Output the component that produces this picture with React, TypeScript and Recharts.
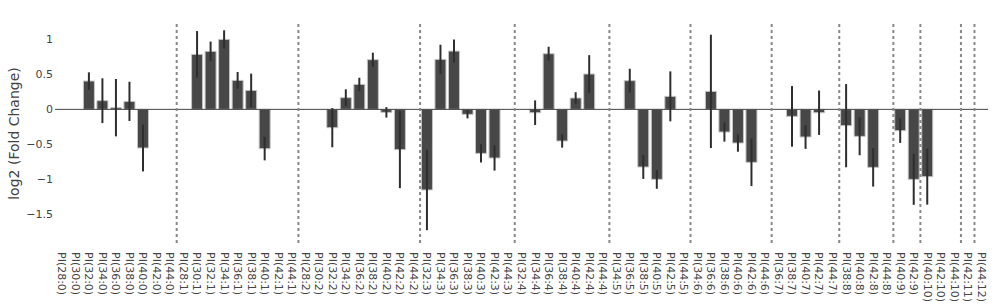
import { BarChart, Bar, XAxis, YAxis, ReferenceLine, ErrorBar } from "recharts";

const categories = [
  "PI(28:0)", "PI(30:0)", "PI(32:0)", "PI(34:0)", "PI(36:0)", "PI(38:0)", "PI(40:0)", "PI(42:0)", "PI(44:0)",
  "PI(28:1)", "PI(30:1)", "PI(32:1)", "PI(34:1)", "PI(36:1)", "PI(38:1)", "PI(40:1)", "PI(42:1)", "PI(44:1)",
  "PI(28:2)", "PI(30:2)", "PI(32:2)", "PI(34:2)", "PI(36:2)", "PI(38:2)", "PI(40:2)", "PI(42:2)", "PI(44:2)",
  "PI(32:3)", "PI(34:3)", "PI(36:3)", "PI(38:3)", "PI(40:3)", "PI(42:3)", "PI(44:3)",
  "PI(32:4)", "PI(34:4)", "PI(36:4)", "PI(38:4)", "PI(40:4)", "PI(42:4)", "PI(44:4)",
  "PI(34:5)", "PI(36:5)", "PI(38:5)", "PI(40:5)", "PI(42:5)", "PI(44:5)",
  "PI(34:6)", "PI(36:6)", "PI(38:6)", "PI(40:6)", "PI(42:6)", "PI(44:6)",
  "PI(36:7)", "PI(38:7)", "PI(40:7)", "PI(42:7)", "PI(44:7)",
  "PI(38:8)", "PI(40:8)", "PI(42:8)", "PI(44:8)",
  "PI(40:9)", "PI(42:9)",
  "PI(40:10)", "PI(42:10)", "PI(44:10)",
  "PI(42:11)",
  "PI(44:12)",
];

// log2 fold change, null = not measured
const values = [
  null, null, 0.405, 0.124, 0.024, 0.114, -0.552, null, null,
  null, 0.786, 0.829, 1.0, 0.414, 0.271, -0.562, null, null,
  null, null, -0.262, 0.167, 0.357, 0.71, -0.043, -0.576, null,
  -1.152, 0.714, 0.833, -0.071, -0.629, -0.695, null,
  null, -0.048, 0.795, -0.452, 0.162, 0.505, null,
  null, 0.41, -0.824, -1.0, 0.186, null,
  null, 0.257, -0.324, -0.481, -0.757, null,
  null, -0.1, -0.395, -0.048, null,
  -0.233, -0.386, -0.829, null,
  -0.305, -1.0,
  -0.962, null, null,
  null,
  null,
];

const errors = [
  null, null, 0.124, 0.32, 0.41, 0.28, 0.335, null, null,
  null, 0.333, 0.14, 0.13, 0.12, 0.24, 0.167, null, null,
  null, null, 0.28, 0.12, 0.095, 0.1, 0.075, 0.55, null,
  0.575, 0.21, 0.165, 0.058, 0.13, 0.18, null,
  null, 0.176, 0.1, 0.095, 0.083, 0.27, null,
  null, 0.17, 0.17, 0.135, 0.357, null,
  null, 0.81, 0.137, 0.124, 0.34, null,
  null, 0.433, 0.17, 0.317, null,
  0.595, 0.27, 0.275, null,
  0.175, 0.365,
  0.4, null, null,
  null,
  null,
];

// first category of each double-bond group, a dotted separator goes before it
const groupStarts = [
  "PI(28:1)", "PI(28:2)", "PI(32:3)", "PI(32:4)", "PI(34:5)", "PI(34:6)",
  "PI(36:7)", "PI(38:8)", "PI(40:9)", "PI(40:10)", "PI(42:11)", "PI(44:12)",
];

const yTicks = [-1.5, -1, -0.5, 0, 0.5, 1];

const data = categories.map((name, i) => ({ name, value: values[i], err: errors[i] }));

const FONT = "'DejaVu Sans', Verdana, sans-serif";

const fmt = (v: number) => (v < 0 ? "\u2212" + Math.abs(v) : String(v));

function XTick(props: any) {
  const { x, y, payload } = props;
  return (
    <text
      transform={`translate(${x},${y + 7}) rotate(90)`}
      textAnchor="start"
      dominantBaseline="central"
      fontSize={11}
      fontFamily={FONT}
      fill="#444"
    >
      {payload.value}
    </text>
  );
}

export default function App() {
  return (
    <div style={{ position: "absolute", left: 0, top: 0, width: 995, height: 306, background: "#fff" }}>
      <BarChart
        width={995}
        height={306}
        data={data}
        margin={{ top: 24, right: 7, bottom: 0, left: 0 }}
        barCategoryGap="10%"
      >
        <XAxis
          dataKey="name"
          interval={0}
          axisLine={false}
          tickLine={false}
          tickSize={0}
          height={63}
          tick={<XTick />}
        />
        <YAxis
          width={55}
          domain={[-1.91, 1.22]}
          ticks={yTicks}
          interval={0}
          axisLine={false}
          tickLine={false}
          tickSize={0}
          tickMargin={2}
          tickFormatter={fmt}
          tick={{ fontSize: 11, fontFamily: FONT, fill: "#444" }}
          label={{
            value: "log2 (Fold Change)",
            angle: -90,
            position: "insideLeft",
            offset: 14,
            style: { fontSize: 14, fontFamily: FONT, fill: "#444", textAnchor: "middle" },
          }}
        />
        <ReferenceLine y={0} stroke="#444" strokeWidth={1} />
        <Bar dataKey="value" fill="#474747" stroke="#c4c4c4" strokeWidth={1} isAnimationActive={false}>
          <ErrorBar dataKey="err" width={0} stroke="#2e2e2e" strokeWidth={2} direction="y" />
        </Bar>
        {groupStarts.map((c) => (
          <ReferenceLine
            key={c}
            x={c}
            position="start"
            stroke="#888"
            strokeWidth={2}
            strokeDasharray="3 3"
          />
        ))}
      </BarChart>
    </div>
  );
}
